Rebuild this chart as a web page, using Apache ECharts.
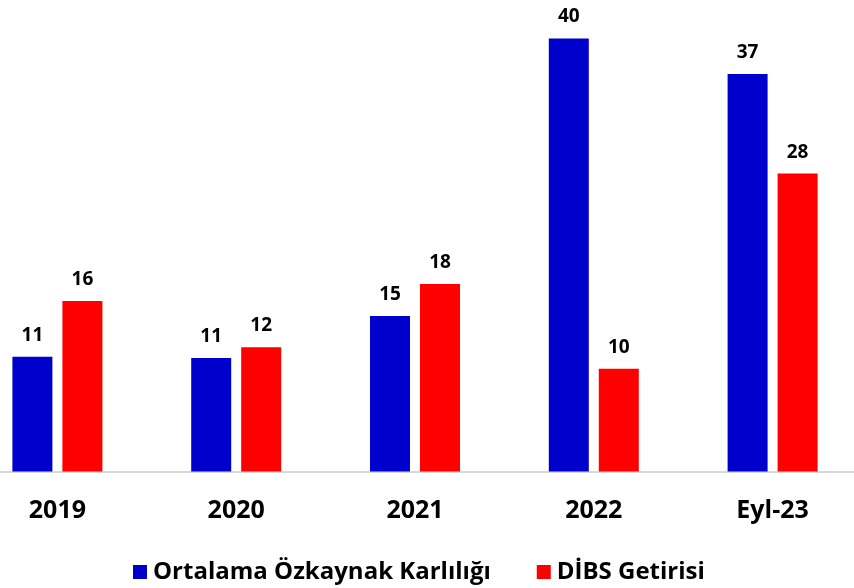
<!DOCTYPE html>
<html>
<head>
<meta charset="utf-8">
<script src="https://cdn.jsdelivr.net/npm/echarts@6/dist/echarts.min.js"></script>
<style>
  html, body { margin: 0; padding: 0; background: #fff; overflow: hidden; }
  body { position: relative; width: 854px; height: 588px; }
  /* the original chart is cropped a bit on both sides */
  #chart { position: absolute; left: -32px; top: 0; width: 894px; height: 588px; }
</style>
</head>
<body>
<div id="chart"></div>
<script>
// kategoriler
var years = ['2019', '2020', '2021', '2022', 'Eyl-23'];
// Ortalama Özkaynak Karlılığı (%)
var roe = [10.7, 10.6, 14.5, 40.4, 37.1];
// DİBS Getirisi (%)
var dibs = [15.9, 11.6, 17.5, 9.6, 27.8];

var FONT = '"Open Sans", "Noto Sans", sans-serif';

var chart = echarts.init(document.getElementById('chart'), null, { renderer: 'canvas' });

var valueLabel = {
  show: true,
  position: 'top',
  distance: 12,
  color: '#000',
  fontFamily: FONT,
  fontWeight: 'bold',
  fontSize: 19,
  formatter: function (p) { return Math.round(p.value); }
};

chart.setOption({
  animation: false,
  backgroundColor: '#fff',
  grid: {
    left: 0,
    right: 0,
    top: 0,
    bottom: 116.5,
    containLabel: false
  },
  legend: {
    left: 160,
    top: 555,
    icon: 'rect',
    itemWidth: 14,
    itemHeight: 14,
    itemGap: 46,
    textStyle: {
      color: '#000',
      fontFamily: FONT,
      fontWeight: 'bold',
      fontSize: 24,
      padding: [0, 0, 0, 1]
    },
    data: ['Ortalama Özkaynak Karlılığı', 'DİBS Getirisi']
  },
  xAxis: {
    type: 'category',
    data: years,
    axisLine: { show: true, lineStyle: { color: '#D9D9D9', width: 2 } },
    axisTick: { show: false },
    axisLabel: {
      margin: 27,
      color: '#000',
      fontFamily: FONT,
      fontWeight: 'bold',
      fontSize: 25
    }
  },
  yAxis: {
    type: 'value',
    min: 0,
    max: 44,
    show: false,
    splitLine: { show: false }
  },
  series: [
    {
      name: 'Ortalama Özkaynak Karlılığı',
      type: 'bar',
      data: roe,
      barWidth: 40,
      barGap: '25%',
      itemStyle: { color: '#0000CC' },
      label: valueLabel
    },
    {
      name: 'DİBS Getirisi',
      type: 'bar',
      data: dibs,
      barWidth: 40,
      barGap: '25%',
      itemStyle: { color: '#FF0000' },
      label: valueLabel
    }
  ]
});
</script>
</body>
</html>
